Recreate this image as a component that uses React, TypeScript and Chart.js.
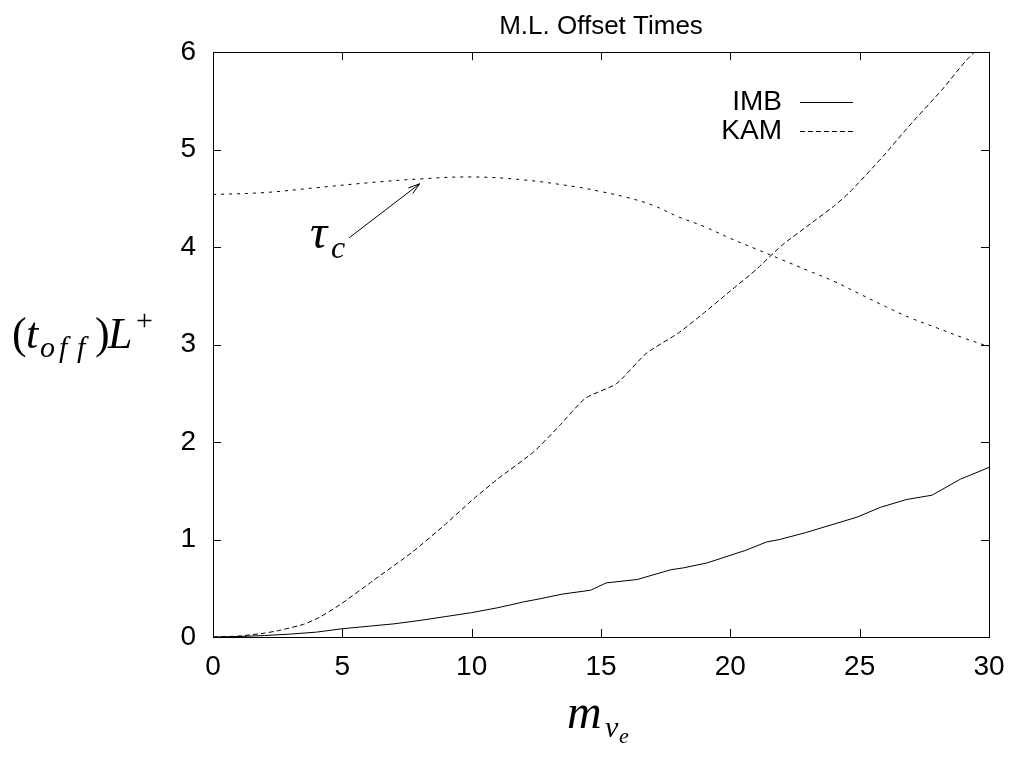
import React, { useEffect, useRef } from 'react';
import { Chart, registerables } from 'chart.js';

Chart.register(...registerables);

// ---- data ----
const titleText = 'M.L. Offset Times';
const seriesNames = ['IMB', 'KAM'];
const xTickValues = [0, 5, 10, 15, 20, 25, 30];
const yTickValues = [0, 1, 2, 3, 4, 5, 6];

const imbX = [0, 1, 2, 3, 4, 5, 6, 7, 8, 9, 10, 11, 11.6, 12, 12.6, 13.5, 14.6, 15.2, 16.4, 17.7, 18.2, 19.1, 20.6, 21.4, 21.9, 22.9, 24.9, 25.8, 26.8, 27.8, 28.9, 30];
const imbY = [0, 0.005, 0.015, 0.03, 0.05, 0.085, 0.11, 0.135, 0.17, 0.21, 0.25, 0.3, 0.335, 0.36, 0.39, 0.44, 0.48, 0.555, 0.59, 0.69, 0.71, 0.76, 0.89, 0.975, 1.0, 1.07, 1.23, 1.33, 1.41, 1.455, 1.62, 1.74];

const kamX = [0, 1, 2, 2.6, 3.5, 4.1, 4.9, 6.2, 7.7, 9, 10, 11, 12.4, 13.4, 14.4, 15.6, 16.75, 18, 19, 20, 21, 22, 23, 24, 24.6, 25.9, 26.9, 28.2, 29.1, 30];
const kamY = [0, 0.01, 0.04, 0.07, 0.13, 0.2, 0.33, 0.58, 0.87, 1.16, 1.4, 1.62, 1.9, 2.17, 2.45, 2.6, 2.91, 3.12, 3.33, 3.55, 3.77, 4.02, 4.22, 4.42, 4.56, 4.93, 5.24, 5.62, 5.91, 6.15];

const tauX = [0, 2, 4, 6, 8, 10, 12, 14, 15, 16, 17, 18, 19, 20, 21, 22, 23, 24, 25, 26, 27, 28, 29, 30];
const tauY = [4.54, 4.56, 4.61, 4.66, 4.7, 4.72, 4.69, 4.62, 4.57, 4.51, 4.43, 4.31, 4.21, 4.09, 3.98, 3.87, 3.76, 3.65, 3.52, 3.39, 3.27, 3.17, 3.07, 2.98];

// annotation (data coordinates)
const arrowFrom = { x: 5.26, y: 4.095 };
const arrowTo = { x: 7.99, y: 4.65 };

const toPoints = (xs: number[], ys: number[]) => xs.map((x, i) => ({ x, y: ys[i] }));

const SERIF = "'Liberation Serif', 'DejaVu Serif', serif";
const SANS = "'Liberation Sans', Arial, sans-serif";

type Piece = { t: string; font: string; x: number; dy: number };

function drawPieces(ctx: CanvasRenderingContext2D, pieces: Piece[], baseline: number) {
  for (const p of pieces) {
    ctx.font = p.font;
    ctx.fillText(p.t, p.x, baseline + p.dy);
  }
}

const decorPlugin = {
  id: 'decor',
  afterDatasetsDraw(chart: any) {
    const { ctx, chartArea: a, scales } = chart;
    const xs = scales.x;
    const ys = scales.y;
    ctx.save();
    ctx.strokeStyle = '#000';
    ctx.fillStyle = '#000';
    ctx.lineWidth = 1;
    ctx.setLineDash([]);
    // frame
    ctx.strokeRect(Math.round(a.left) + 0.5, Math.round(a.top) + 0.5, Math.round(a.right - a.left), Math.round(a.bottom - a.top));
    // inward ticks, mirrored
    const L = 8;
    ctx.beginPath();
    for (const v of xTickValues) {
      const px = Math.round(xs.getPixelForValue(v)) + 0.5;
      ctx.moveTo(px, a.bottom); ctx.lineTo(px, a.bottom - L);
      ctx.moveTo(px, a.top); ctx.lineTo(px, a.top + L);
    }
    for (const v of yTickValues) {
      const py = Math.round(ys.getPixelForValue(v)) + 0.5;
      ctx.moveTo(a.left, py); ctx.lineTo(a.left + L, py);
      ctx.moveTo(a.right, py); ctx.lineTo(a.right - L, py);
    }
    ctx.stroke();

    // legend
    ctx.font = `28px ${SANS}`;
    ctx.textAlign = 'right';
    ctx.textBaseline = 'middle';
    const legendDash = [[], [5, 3]];
    seriesNames.forEach((name, i) => {
      const cy = 102 + i * 29;
      ctx.fillText(name, 782, cy);
      ctx.setLineDash(legendDash[i]);
      ctx.beginPath();
      ctx.moveTo(800, cy + 0.5);
      ctx.lineTo(853, cy + 0.5);
      ctx.stroke();
    });
    ctx.setLineDash([]);

    // arrow annotation
    const x1 = xs.getPixelForValue(arrowFrom.x), y1 = ys.getPixelForValue(arrowFrom.y);
    const x2 = xs.getPixelForValue(arrowTo.x), y2 = ys.getPixelForValue(arrowTo.y);
    ctx.beginPath();
    ctx.moveTo(x1, y1); ctx.lineTo(x2, y2);
    const ang = Math.atan2(y2 - y1, x2 - x1);
    const h = 12, spread = 0.3;
    ctx.moveTo(x2 - h * Math.cos(ang - spread), y2 - h * Math.sin(ang - spread));
    ctx.lineTo(x2, y2);
    ctx.lineTo(x2 - h * Math.cos(ang + spread), y2 - h * Math.sin(ang + spread));
    ctx.stroke();

    // tau_c label
    ctx.textAlign = 'left';
    ctx.textBaseline = 'alphabetic';
    drawPieces(ctx, [
      { t: 'τ', font: `italic 48px ${SERIF}`, x: x1 - 39, dy: 0 },
      { t: 'c', font: `italic 32px ${SERIF}`, x: x1 - 18, dy: 10 },
    ], y1 + 10);

    // y-axis title: (t_off) L^+
    drawPieces(ctx, [
      { t: '(', font: `44px ${SERIF}`, x: 12, dy: 0 },
      { t: 't', font: `italic 44px ${SERIF}`, x: 26, dy: 0 },
      { t: 'o', font: `italic 30px ${SERIF}`, x: 40, dy: 9 },
      { t: 'f', font: `italic 30px ${SERIF}`, x: 59, dy: 9 },
      { t: 'f', font: `italic 30px ${SERIF}`, x: 77, dy: 9 },
      { t: ')', font: `44px ${SERIF}`, x: 95, dy: 0 },
      { t: 'L', font: `italic 44px ${SERIF}`, x: 108, dy: 0 },
      { t: '+', font: `30px ${SERIF}`, x: 136, dy: -18 },
    ], 348);

    // x-axis title: m_{nu_e}
    drawPieces(ctx, [
      { t: 'm', font: `italic 48px ${SERIF}`, x: 567, dy: 0 },
      { t: 'ν', font: `italic 30px ${SERIF}`, x: 605, dy: 9 },
      { t: 'e', font: `italic 22px ${SERIF}`, x: 619, dy: 15 },
    ], 728);

    ctx.restore();
  },
};

export default function App() {
  const ref = useRef<HTMLCanvasElement | null>(null);

  useEffect(() => {
    if (!ref.current) return;
    const chart = new Chart(ref.current, {
      type: 'scatter',
      data: {
        datasets: [
          {
            label: seriesNames[0],
            data: toPoints(imbX, imbY),
            showLine: true,
            borderColor: '#000',
            borderWidth: 1,
            pointRadius: 0,
            tension: 0,
          },
          {
            label: seriesNames[1],
            data: toPoints(kamX, kamY),
            showLine: true,
            borderColor: '#000',
            borderWidth: 1,
            borderDash: [5, 3],
            pointRadius: 0,
            tension: 0.2,
          },
          {
            label: 'τc',
            data: toPoints(tauX, tauY),
            showLine: true,
            borderColor: '#000',
            borderWidth: 1,
            borderDash: [3, 5],
            pointRadius: 0,
            tension: 0.4,
          },
        ],
      },
      options: {
        animation: false,
        responsive: true,
        maintainAspectRatio: false,
        layout: { padding: { top: 0, right: 22, bottom: 0, left: 0 } },
        plugins: {
          legend: { display: false },
          tooltip: { enabled: false },
          title: {
            display: true,
            text: titleText,
            fullSize: false,
            color: '#000',
            font: { family: SANS, size: 26, weight: 'normal' },
            padding: { top: 11, bottom: 10 },
          },
        },
        scales: {
          x: {
            type: 'linear',
            min: 0,
            max: 30,
            grid: { display: false, drawTicks: false },
            border: { display: false },
            ticks: {
              stepSize: 5,
              color: '#000',
              font: { family: SANS, size: 28 },
              padding: 13,
              maxRotation: 0,
            },
            afterFit: (s: any) => {
              s.height = 123;
              s.paddingLeft = 0;
              s.paddingRight = 0;
            },
          },
          y: {
            type: 'linear',
            min: 0,
            max: 6,
            grid: { display: false, drawTicks: false },
            border: { display: false },
            ticks: {
              stepSize: 1,
              color: '#000',
              font: { family: SANS, size: 28 },
              padding: 17,
            },
            afterFit: (s: any) => {
              s.width = 213;
              s.paddingTop = 0;
              s.paddingBottom = 0;
            },
          },
        },
      },
      plugins: [decorPlugin],
    });
    return () => chart.destroy();
  }, []);

  return (
    <div style={{ position: 'fixed', left: 0, top: 0, width: 1011, height: 760, background: '#fff' }}>
      <canvas ref={ref} />
    </div>
  );
}
